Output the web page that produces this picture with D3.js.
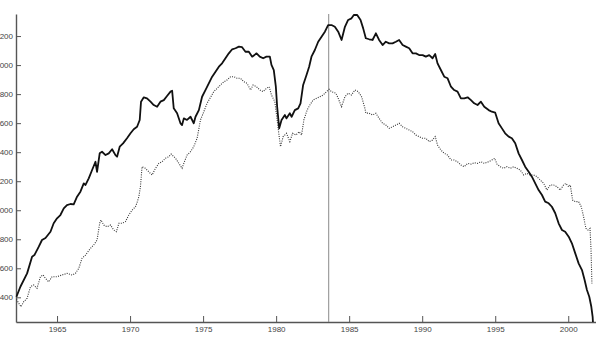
<!DOCTYPE html>
<html>
<head>
<meta charset="utf-8">
<script src="https://cdn.jsdelivr.net/npm/d3@7"></script>
<style>
  html, body { margin: 0; padding: 0; background: #fff; }
  svg { display: block; }
</style>
</head>
<body>
<svg id="chart" width="596" height="349"></svg>
<script>
// ---- data ----
const solidYears = [1962.22,1962.49,1962.95,1963.29,1963.45,1963.75,1963.97,1964.21,1964.55,1964.77,1965.00,1965.23,1965.46,1965.68,1965.92,1966.14,1966.37,1966.60,1966.83,1966.95,1967.17,1967.40,1967.63,1967.74,1967.92,1968.08,1968.32,1968.54,1968.77,1969.00,1969.11,1969.29,1969.52,1969.79,1970.03,1970.25,1970.48,1970.66,1970.75,1970.94,1971.16,1971.40,1971.62,1971.85,1972.08,1972.31,1972.53,1972.77,1972.88,1972.99,1973.22,1973.45,1973.56,1973.68,1973.90,1974.14,1974.36,1974.48,1974.71,1974.93,1975.16,1975.39,1975.62,1975.85,1976.08,1976.30,1976.53,1976.76,1976.99,1977.22,1977.45,1977.67,1977.90,1978.13,1978.36,1978.66,1978.88,1979.11,1979.34,1979.57,1979.68,1979.84,1979.98,1980.07,1980.21,1980.37,1980.60,1980.71,1980.94,1981.06,1981.28,1981.51,1981.67,1981.85,1982.08,1982.26,1982.42,1982.65,1982.88,1983.11,1983.34,1983.56,1983.79,1984.02,1984.25,1984.48,1984.71,1984.93,1985.16,1985.32,1985.55,1985.78,1985.96,1986.14,1986.37,1986.60,1986.83,1987.05,1987.29,1987.51,1987.74,1987.97,1988.20,1988.42,1988.66,1988.88,1989.11,1989.34,1989.57,1989.79,1990.03,1990.25,1990.48,1990.71,1990.89,1991.05,1991.28,1991.51,1991.74,1991.97,1992.19,1992.42,1992.65,1992.88,1993.11,1993.34,1993.56,1993.79,1994.02,1994.25,1994.55,1994.77,1995.00,1995.23,1995.46,1995.68,1995.92,1996.14,1996.37,1996.60,1996.83,1997.05,1997.29,1997.51,1997.74,1997.97,1998.20,1998.42,1998.66,1998.88,1999.11,1999.34,1999.57,1999.79,2000.03,2000.25,2000.48,2000.71,2000.94,2001.12,2001.28,2001.44,2001.58,2001.67,2001.69];
const solidValues = [1404,1473,1565,1680,1691,1749,1795,1809,1852,1910,1944,1967,2013,2036,2043,2041,2093,2128,2185,2174,2220,2277,2334,2265,2392,2403,2380,2392,2420,2380,2369,2438,2461,2496,2530,2558,2575,2622,2748,2778,2771,2748,2725,2713,2748,2759,2787,2817,2823,2702,2668,2599,2587,2633,2622,2644,2599,2644,2690,2782,2828,2874,2920,2954,2989,3012,3047,3081,3109,3116,3127,3123,3092,3092,3058,3081,3058,3047,3058,3058,3001,2966,2851,2713,2564,2622,2656,2633,2668,2644,2690,2702,2737,2863,2932,2989,3058,3104,3161,3196,3230,3276,3276,3264,3230,3173,3264,3311,3322,3345,3345,3311,3253,3185,3178,3173,3219,3173,3138,3161,3150,3150,3161,3173,3138,3127,3116,3081,3081,3069,3069,3058,3069,3047,3076,3012,2966,2920,2909,2851,2828,2817,2771,2771,2778,2759,2737,2725,2748,2713,2690,2679,2672,2599,2564,2530,2507,2496,2461,2392,2346,2300,2265,2231,2185,2139,2105,2059,2048,2024,1979,1910,1864,1852,1818,1772,1703,1634,1588,1519,1450,1404,1335,1266,1230];

const dottedYears = [1962.22,1962.38,1962.53,1962.72,1962.95,1963.18,1963.40,1963.63,1963.86,1964.04,1964.21,1964.43,1964.66,1965.00,1965.34,1965.68,1966.03,1966.26,1966.49,1966.71,1966.95,1967.29,1967.51,1967.74,1967.92,1968.01,1968.20,1968.42,1968.66,1968.88,1969.07,1969.23,1969.45,1969.68,1969.91,1970.14,1970.37,1970.48,1970.60,1970.71,1970.82,1971.05,1971.28,1971.51,1971.74,1971.97,1972.19,1972.42,1972.65,1972.81,1973.11,1973.34,1973.56,1973.68,1973.90,1974.14,1974.36,1974.59,1974.82,1975.05,1975.27,1975.51,1975.73,1975.96,1976.19,1976.42,1976.64,1976.88,1977.10,1977.33,1977.56,1977.79,1978.01,1978.25,1978.42,1978.66,1978.88,1979.11,1979.34,1979.52,1979.68,1979.91,1980.07,1980.21,1980.30,1980.48,1980.71,1980.94,1981.12,1981.35,1981.58,1981.74,1981.90,1982.12,1982.31,1982.53,1982.77,1982.99,1983.22,1983.45,1983.63,1983.79,1984.09,1984.25,1984.48,1984.71,1984.93,1985.16,1985.39,1985.62,1985.85,1986.08,1986.14,1986.37,1986.60,1986.83,1987.05,1987.29,1987.51,1987.74,1987.97,1988.20,1988.42,1988.66,1988.88,1989.11,1989.34,1989.57,1989.79,1990.03,1990.25,1990.48,1990.71,1990.89,1991.05,1991.28,1991.51,1991.74,1991.97,1992.19,1992.42,1992.65,1992.88,1993.11,1993.34,1993.56,1993.79,1994.02,1994.25,1994.55,1994.77,1994.96,1995.12,1995.34,1995.58,1995.80,1996.03,1996.26,1996.49,1996.71,1996.95,1997.17,1997.40,1997.63,1997.86,1998.08,1998.32,1998.54,1998.77,1999.00,1999.23,1999.45,1999.68,1999.84,2000.03,2000.14,2000.30,2000.48,2000.71,2000.89,2001.05,2001.21,2001.35,2001.49,2001.56,2001.62];
const dottedValues = [1386,1359,1335,1370,1393,1473,1485,1462,1542,1554,1531,1507,1542,1542,1554,1565,1554,1565,1600,1669,1691,1738,1760,1795,1910,1933,1898,1886,1898,1864,1852,1910,1910,1921,1967,2001,2024,2053,2093,2162,2300,2289,2265,2243,2289,2323,2334,2358,2369,2387,2358,2323,2289,2323,2380,2403,2438,2496,2622,2679,2737,2778,2817,2840,2863,2885,2897,2920,2920,2909,2909,2885,2874,2828,2863,2851,2828,2817,2840,2851,2794,2748,2622,2507,2438,2507,2530,2472,2530,2518,2541,2518,2622,2690,2725,2759,2771,2782,2794,2817,2833,2817,2806,2771,2713,2782,2806,2794,2828,2817,2782,2702,2670,2668,2656,2668,2633,2599,2587,2564,2575,2587,2599,2575,2564,2553,2541,2518,2507,2496,2496,2472,2484,2507,2449,2415,2392,2380,2346,2346,2334,2312,2300,2323,2318,2327,2323,2334,2323,2334,2346,2358,2318,2300,2289,2300,2289,2300,2289,2277,2243,2254,2243,2243,2231,2208,2185,2139,2174,2174,2162,2139,2174,2185,2162,2174,2070,2059,2059,2024,1955,1875,1864,1875,1726,1496];

const markerYear = 1983.6;               // thin vertical reference line
const xTickValues = [1965, 1970, 1975, 1980, 1985, 1990, 1995, 2000];
const yTickValues = [1400, 1600, 1800, 2000, 2200, 2400, 2600, 2800, 3000, 3200];
const xDomain = [1962.19, 2001.9];
const yDomain = [1230, 3352];

// ---- layout ----
const svg = d3.select("#chart");
const plotLeft = 16, plotRight = 596, plotTop = 14, plotBottom = 322;

const x = d3.scaleLinear().domain(xDomain).range([plotLeft, plotRight]);
const y = d3.scaleLinear().domain(yDomain).range([plotBottom, plotTop]);

const axisColor = "#555";
const textColor = "#444";
const font = "'Liberation Sans', Arial, Helvetica, sans-serif";

// x axis (ticks point inward/up)
const xAxis = d3.axisBottom(x).tickValues(xTickValues).tickFormat(d3.format("d"))
  .tickSizeInner(-6).tickSizeOuter(0).tickPadding(4);
const gx = svg.append("g").attr("transform", `translate(0,${plotBottom})`).call(xAxis);
gx.select(".domain").attr("stroke", axisColor).attr("stroke-width", 1.4);
gx.selectAll(".tick line").attr("stroke", axisColor).attr("stroke-width", 1);
gx.selectAll(".tick text").attr("fill", textColor).attr("font-size", 8).attr("font-family", font);

// y axis (ticks point inward/right)
const yAxis = d3.axisLeft(y).tickValues(yTickValues).tickFormat(d3.format("d"))
  .tickSizeInner(-5).tickSizeOuter(0).tickPadding(3);
const gy = svg.append("g").attr("transform", `translate(${plotLeft},0)`).call(yAxis);
gy.select(".domain").attr("stroke", axisColor).attr("stroke-width", 1.4);
gy.selectAll(".tick line").attr("stroke", axisColor).attr("stroke-width", 1);
gy.selectAll(".tick text").attr("fill", textColor).attr("font-size", 8).attr("font-family", font);

// vertical marker line
svg.append("line")
  .attr("x1", x(markerYear)).attr("x2", x(markerYear))
  .attr("y1", plotTop).attr("y2", plotBottom)
  .attr("stroke", "#8a8a8a").attr("stroke-width", 1);

const line = d3.line().x(d => x(d[0])).y(d => y(d[1]));

const dotted = d3.zip(dottedYears, dottedValues);
const solid = d3.zip(solidYears, solidValues);

svg.append("path").datum(dotted)
  .attr("d", line).attr("fill", "none")
  .attr("stroke", "#333").attr("stroke-width", 1.1)
  .attr("stroke-dasharray", "1,1.3");

svg.append("path").datum(solid)
  .attr("d", line).attr("fill", "none")
  .attr("stroke", "#111").attr("stroke-width", 1.8)
  .attr("stroke-linejoin", "round");
</script>
</body>
</html>
